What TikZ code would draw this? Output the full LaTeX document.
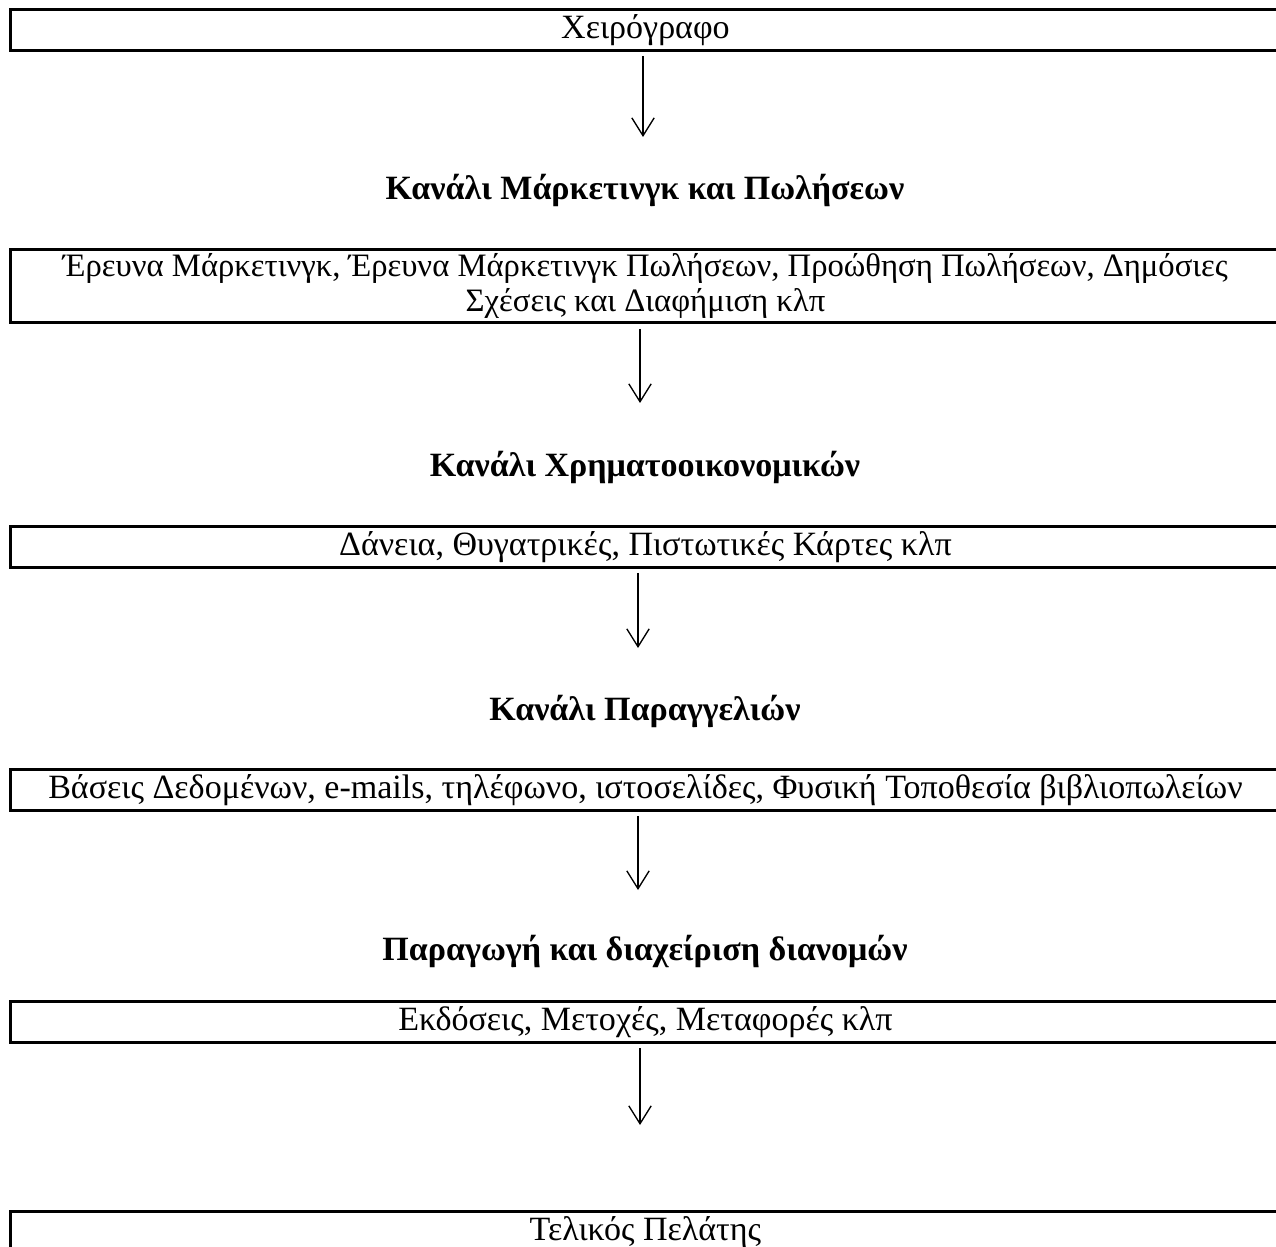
\documentclass[tikz,border=0pt]{standalone}
\usepackage{fontspec}
\setmainfont{Liberation Serif}
\usetikzlibrary{arrows.meta, positioning}

\begin{document}
\begin{tikzpicture}[
        x=0.0157cm, y=-0.0157cm,
        box/.style={draw, line width=1.3pt, anchor=west, inner sep=0pt,
                    minimum width=19.94cm, minimum height=0.63cm,
                    font=\fontsize{15.2}{15.6}\selectfont, align=center},
        head/.style={font=\fontsize{15.2}{15.6}\selectfont\bfseries},
        arr/.style={-{Straight Barb[length=8pt, width=10pt]}, line width=0.6pt,
                    shorten <=2pt},
      ]
        \clip (0,0) rectangle (1276,1247);
        \fill[white] (0,0) rectangle (1276,1247);

        \node[box] (manuscript) at (9,30) {Χειρόγραφο};
        \node[head] (marketing) at (645,190) {Κανάλι Μάρκετινγκ και Πωλήσεων};
        \node[box, minimum height=1.16cm, font=\fontsize{14.6}{15.6}\selectfont] (research) at (9,286)
          {Έρευνα Μάρκετινγκ, Έρευνα Μάρκετινγκ Πωλήσεων, Προώθηση Πωλήσεων, Δημόσιες\\
           Σχέσεις και Διαφήμιση κλπ};
        \node[head] (finance) at (645,467) {Κανάλι Χρηματοοικονομικών};
        \node[box] (loans) at (9,547) {Δάνεια, Θυγατρικές, Πιστωτικές Κάρτες κλπ};
        \node[head] (orders) at (645,711) {Κανάλι Παραγγελιών};
        \node[box] (databases) at (9,790)
          {Βάσεις Δεδομένων, e-mails, τηλέφωνο, ιστοσελίδες, Φυσική Τοποθεσία βιβλιοπωλείων};
        \node[head] (production) at (645,951) {Παραγωγή και διαχείριση διανομών};
        \node[box] (editions) at (9,1022) {Εκδόσεις, Μετοχές, Μεταφορές κλπ};
        \node[box] (customer) at (9,1232) {Τελικός Πελάτης};

        % free ends of the arrows
        \coordinate (e1) at (643,137);
        \coordinate (e2) at (640,403);
        \coordinate (e3) at (638,648);
        \coordinate (e4) at (638,890);
        \coordinate (e5) at (640,1125);

        \draw[arr] (manuscript.south -| e1) -- (e1);
        \draw[arr] (research.south -| e2)   -- (e2);
        \draw[arr] (loans.south -| e3)      -- (e3);
        \draw[arr] (databases.south -| e4)  -- (e4);
        \draw[arr] (editions.south -| e5)   -- (e5);
      \end{tikzpicture}
\end{document}
